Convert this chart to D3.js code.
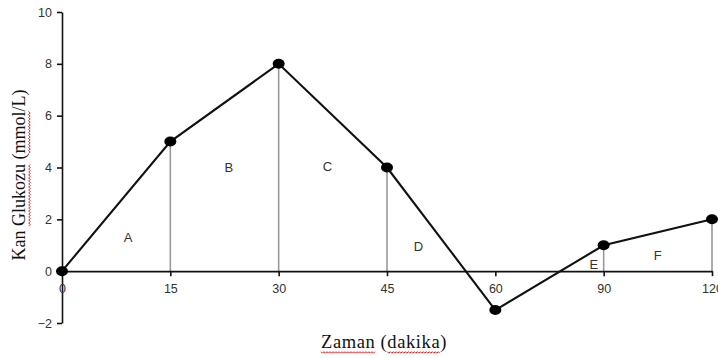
<!DOCTYPE html>
<html>
<head>
<meta charset="utf-8">
<script src="https://cdn.jsdelivr.net/npm/d3@7"></script>
<style>
    body { margin: 0; background: #fff; }
    .axis text { font-family: "Liberation Sans", Arial, sans-serif; font-size: 12.5px; fill: #333; }
    .axis path, .axis line { stroke: #111; stroke-width: 1.6; }
</style>
</head>
<body>
<svg width="718" height="358"></svg>
<script>
'use strict';

// data
const MINUTES = ['0', '15', '30', '45', '60', '90', '120'];
const GLUCOSE = [0, 5, 8, 4, -1.5, 1, 2];
const Y_TICKS = [-2, 0, 2, 4, 6, 8, 10];
const DROPS = ['15', '30', '45', '90', '120'];

// area letters: category index (fractional) and value
const AREA_NAMES = ['A', 'B', 'C', 'D', 'E', 'F'];
const AREA_IDX = [0.61, 1.54, 2.45, 3.29, 4.91, 5.5];
const AREA_VAL = [1.27, 3.94, 4.01, 0.93, 0.23, 0.58];

const X_TITLE = 'Zaman (dakika)';
const Y_TITLE = 'Kan Glukozu (mmol/L)';

const svg = d3.select('svg');

const x = d3.scalePoint().domain(MINUTES).range([62, 712]);
const y = d3.scaleLinear().domain([-2, 10]).range([323, 12]);
const step = x.step();
const xIdx = (i) => x(MINUTES[0]) + i * step;

// y axis
svg.append('g')
    .attr('class', 'axis')
    .attr('transform', `translate(${x('0')},0)`)
    .call(d3.axisLeft(y).tickValues(Y_TICKS).tickSize(5).tickSizeOuter(0).tickPadding(5)
        .tickFormat((d) => (d < 0 ? '\u2212' + Math.abs(d) : d)));

// drop lines
const points = MINUTES.map((m, i) => ({ m, v: GLUCOSE[i] }));
svg.append('g').selectAll('line')
    .data(points.filter((p) => DROPS.includes(p.m)))
    .join('line')
    .attr('x1', (d) => x(d.m)).attr('x2', (d) => x(d.m))
    .attr('y1', (d) => y(d.v)).attr('y2', y(0))
    .attr('stroke', '#999').attr('stroke-width', 1.6);

// x axis on the zero line
svg.append('g')
    .attr('class', 'axis')
    .attr('transform', `translate(0,${y(0)})`)
    .call(d3.axisBottom(x).tickSize(5).tickSizeOuter(0).tickPadding(8));

// area letters
svg.append('g').selectAll('text')
    .data(AREA_NAMES)
    .join('text')
    .attr('x', (d, i) => xIdx(AREA_IDX[i]))
    .attr('y', (d, i) => y(AREA_VAL[i]))
    .attr('text-anchor', 'middle')
    .attr('dominant-baseline', 'middle')
    .style('font-family', '"Liberation Sans", Arial, sans-serif')
    .style('font-size', '13px')
    .style('fill', '#333')
    .text((d) => d);

// line + markers
svg.append('path')
    .datum(points)
    .attr('fill', 'none')
    .attr('stroke', '#111')
    .attr('stroke-width', 2.1)
    .attr('d', d3.line().x((d) => x(d.m)).y((d) => y(d.v)));

svg.append('g').selectAll('ellipse')
    .data(points)
    .join('ellipse')
    .attr('cx', (d) => x(d.m)).attr('cy', (d) => y(d.v))
    .attr('rx', 6).attr('ry', 5)
    .attr('fill', '#000');

// red spell-check squiggle under a word of a text element
const squiggle = (g, node, word, baseY) => {
    const start = node.textContent.indexOf(word);
    const x0 = node.getStartPositionOfChar(start).x;
    const x1 = x0 + node.getSubStringLength(start, word.length);
    const pts = [];
    for (let px = x0, k = 0; px <= x1; px += 1.5, k++) pts.push([px, baseY + (k % 2 ? 1.2 : -0.3)]);
    g.append('path')
        .attr('d', d3.line()(pts))
        .attr('fill', 'none')
        .attr('stroke', '#e81818')
        .attr('stroke-width', 1);
};

// titles
const xt = svg.append('g');
const xText = xt.append('text')
    .attr('x', 384).attr('y', 348)
    .attr('text-anchor', 'middle')
    .style('font-family', '"Liberation Serif", "Times New Roman", serif')
    .style('font-size', '18.5px')
    .style('letter-spacing', '0.6px')
    .style('fill', '#111')
    .text(X_TITLE);
['Zaman', 'dakika'].forEach((w) => squiggle(xt, xText.node(), w, 352));

const yt = svg.append('g').attr('transform', 'translate(25,175) rotate(-90)');
const yText = yt.append('text')
    .attr('x', 0).attr('y', 0)
    .attr('text-anchor', 'middle')
    .style('font-family', '"Liberation Serif", "Times New Roman", serif')
    .style('font-size', '18px')
    .style('fill', '#111')
    .text(Y_TITLE);
['Glukozu', 'mmol'].forEach((w) => squiggle(yt, yText.node(), w, 4));
</script>
</body>
</html>
